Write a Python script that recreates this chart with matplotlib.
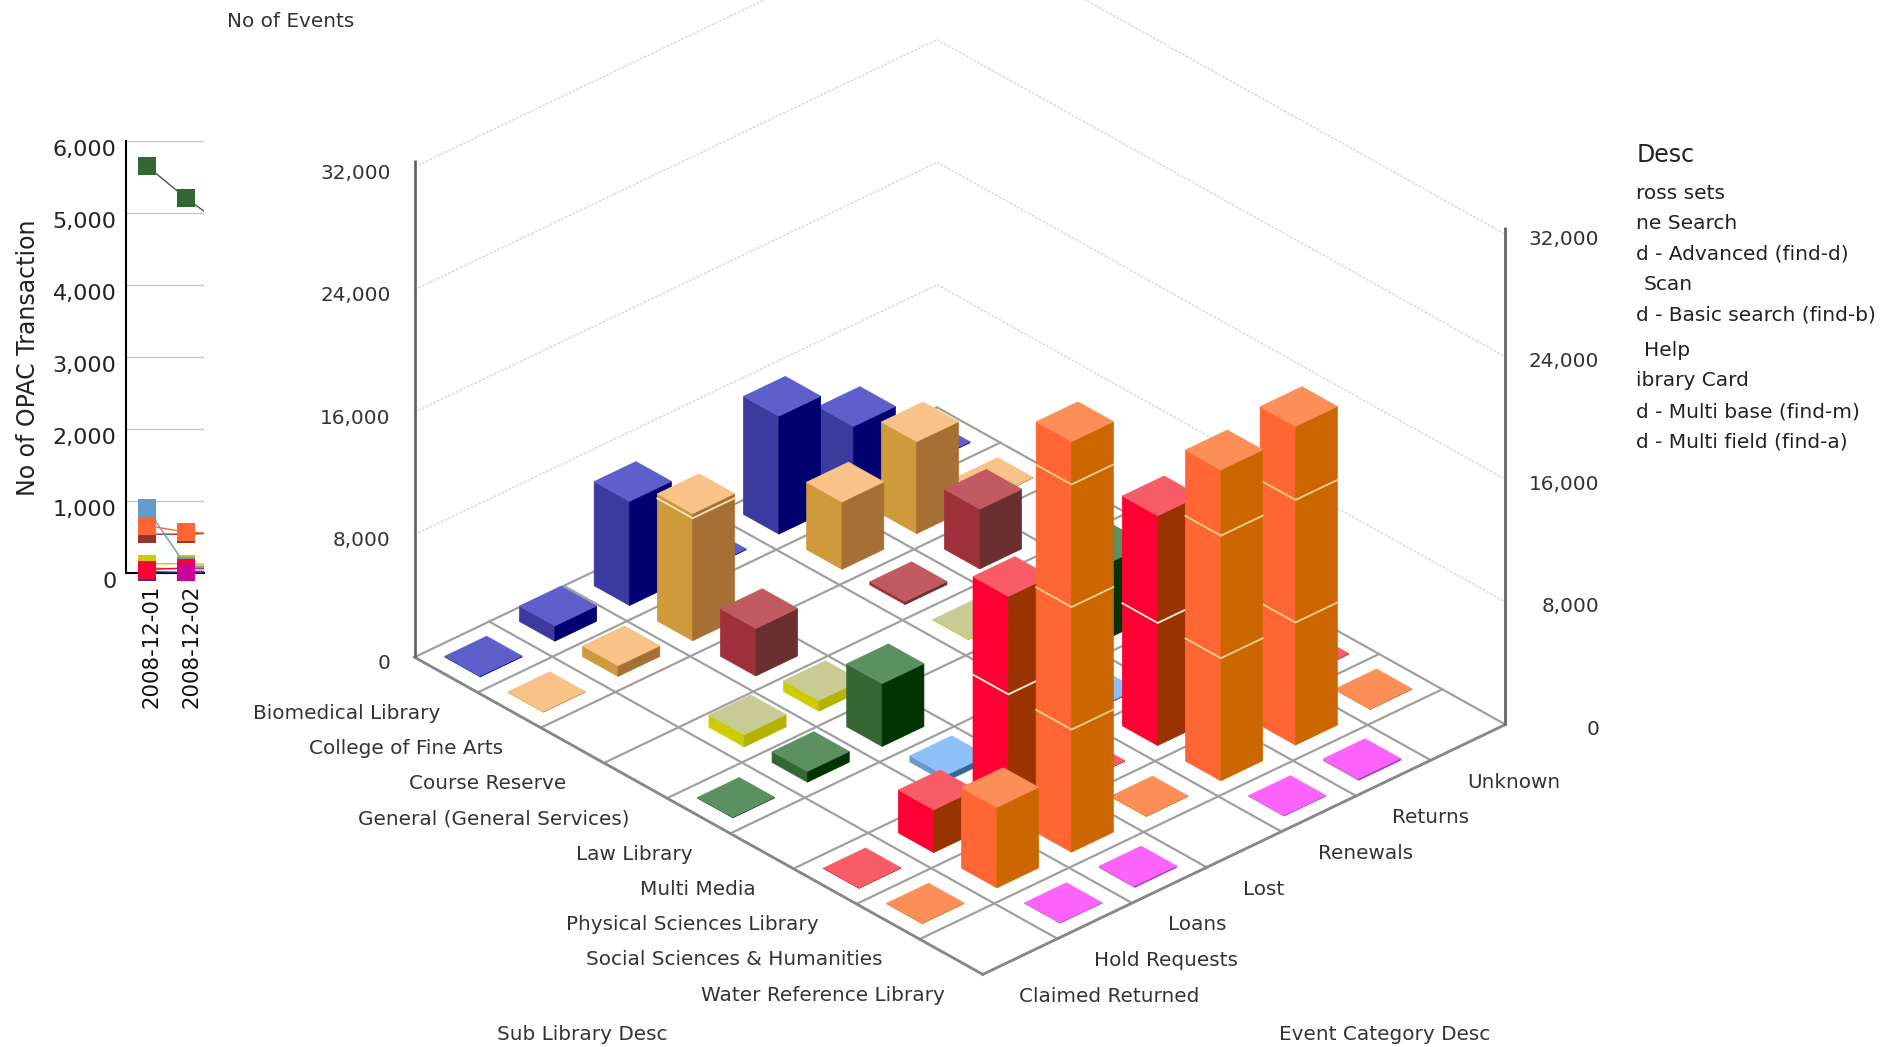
import numpy as np
import matplotlib
matplotlib.use('Agg')
import matplotlib.pyplot as plt
from matplotlib.patches import Polygon
from matplotlib.transforms import ScaledTranslation, Bbox, TransformedBbox

matplotlib.rcParams['font.family'] = 'DejaVu Sans'

# 3d chart data, one list per sub library, values in event category order
sub_libraries = ['Biomedical Library', 'College of Fine Arts', 'Course Reserve',
                 'General (General Services)', 'Law Library', 'Multi Media',
                 'Physical Sciences Library', 'Social Sciences & Humanities',
                 'Water Reference Library']
event_categories = ['Claimed Returned', 'Hold Requests', 'Loans', 'Lost',
                    'Renewals', 'Returns', 'Unknown']
biomedical = [60, 1000, 6800, 60, 7700, 4700, 60]
fine_arts = [40, 700, 8300, 0, 4400, 6000, 40]
course_reserve = [0, 0, 3100, 0, 200, 3900, 0]
general = [0, 800, 700, 0, 40, 0, 0]
law = [40, 700, 4100, 0, 0, 4900, 0]
multi_media = [0, 0, 400, 0, 100, 0, 0]
physical = [40, 2800, 14400, 40, 15000, 0, 40]
social = [40, 5250, 26800, 40, 20300, 20800, 40]
water = [0, 40, 100, 0, 40, 120, 0]
event_counts = [biomedical, fine_arts, course_reserve, general, law,
                multi_media, physical, social, water]

z_ticks = [0, 8000, 16000, 24000, 32000]

# top, left and right face colours per sub library
face_colors = [('#5f5fcb', '#3a3a9f', '#000070'),
               ('#f9c387', '#ce9a3c', '#a66f33'),
               ('#c05a60', '#9f2f3a', '#6a3030'),
               ('#c9cb94', '#cccc00', '#b3b300'),
               ('#5c9060', '#336633', '#003300'),
               ('#8dc0f7', '#6699cc', '#336699'),
               ('#f85c66', '#ff0033', '#993300'),
               ('#fb8f57', '#ff6633', '#cc6600'),
               ('#fb63fb', '#cc66cc', '#9933cc')]
band_colors = ['#fbe0b8', '#fbe0b8', '#ffffff', '#ffffff', '#ffffff', '#ffffff',
               '#fff0e0', '#fbd08c', '#ffffff']

# line chart data, clipped at the right side
dates = ['2008-12-01', '2008-12-02', '2008-12-03']
line_series = [
    ([20, 10, 15], '#333399'),
    ([70, 60, 60], '#cc9933'),
    ([540, 540, 560], '#993333'),
    ([130, 130, 120], '#cccc00'),
    ([5650, 5200, 4800], '#336633'),
    ([900, 100, 90], '#6699cc'),
    ([50, 70, 70], '#ff0033'),
    ([660, 570, 540], '#ff6633'),
    ([np.nan, 20, 30], '#cc0099'),
]

W = 1568.
S = 1884 / W
fig = plt.figure(figsize=(18.84, 10.47), dpi=100)
ax = fig.add_axes([0, 0, 1, 1])
ax.set_xlim(0, W)
ax.set_ylim(1047 / S, 0)
ax.axis('off')

# floor corner and unit vectors of the projection
origin = np.array([345., 547.])
u = np.array([52.55, 29.33])
v = np.array([62.14, -29.71])
z_px = 102. / 8000


def proj(i, j, z=0):
    p = origin + i * u + j * v
    return (p[0], p[1] - z * z_px)


ni, nj = len(sub_libraries), len(event_categories)

# walls
wall_color = '#d8d8d8'
for z in z_ticks[1:]:
    xs = [proj(0, 0, z)[0], proj(0, nj, z)[0], proj(ni, nj, z)[0]]
    ys = [proj(0, 0, z)[1], proj(0, nj, z)[1], proj(ni, nj, z)[1]]
    ax.plot(xs, ys, color=wall_color, lw=1, ls=(0, (2, 1)), zorder=1)

# floor grid
for i in range(ni + 1):
    a, b = proj(i, 0), proj(i, nj)
    ax.plot([a[0], b[0]], [a[1], b[1]], color='#a0a0a0', lw=1.6, zorder=2)
for j in range(nj + 1):
    a, b = proj(0, j), proj(ni, j)
    ax.plot([a[0], b[0]], [a[1], b[1]], color='#a0a0a0', lw=1.6, zorder=2)
for a, b in [(proj(0, 0), proj(ni, 0)), (proj(ni, 0), proj(ni, nj))]:
    ax.plot([a[0], b[0]], [a[1], b[1]], color='#888888', lw=2, zorder=2)

# the two upright axes
for corner in [proj(0, 0), proj(ni, nj)]:
    ax.plot([corner[0], corner[0]], [corner[1], corner[1] - 414],
            color='#666666', lw=2, zorder=2, solid_capstyle='butt')

# bars, back to front
w = 0.28
cells = [(i, j) for i in range(ni) for j in range(nj) if event_counts[i][j] > 0]
cells.sort(key=lambda c: c[0] - c[1])
zo = 3
for i, j in cells:
    h = event_counts[i][j]
    top, left, right = face_colors[i]
    i0, i1, j0, j1 = i + .5 - w, i + .5 + w, j + .5 - w, j + .5 + w
    ax.add_patch(Polygon([proj(i0, j0, 0), proj(i1, j0, 0), proj(i1, j0, h), proj(i0, j0, h)],
                         fc=left, ec=left, lw=.5, zorder=zo))
    ax.add_patch(Polygon([proj(i1, j0, 0), proj(i1, j1, 0), proj(i1, j1, h), proj(i1, j0, h)],
                         fc=right, ec=right, lw=.5, zorder=zo))
    ax.add_patch(Polygon([proj(i0, j0, h), proj(i1, j0, h), proj(i1, j1, h), proj(i0, j1, h)],
                         fc=top, ec=top, lw=.5, zorder=zo))
    for z in z_ticks[1:]:
        if z < h:
            a, b, c = proj(i0, j0, z), proj(i1, j0, z), proj(i1, j1, z)
            ax.plot([a[0], b[0], c[0]], [a[1], b[1], c[1]], color=band_colors[i],
                    lw=1.3, zorder=zo, solid_joinstyle='miter')
    zo += 1

# texts of the 3d chart
label_color = '#333333'
fs = 14.4
for z in z_ticks:
    a = proj(0, 0, z)
    ax.text(a[0] - 20, a[1] + 5, f'{z:,}', ha='right', va='center', fontsize=fs, color=label_color)
    b = proj(ni, nj, z)
    ax.text(b[0] + 78, b[1] + 4, f'{z:,}', ha='right', va='center', fontsize=fs, color=label_color)
for i, name in enumerate(sub_libraries):
    a = proj(i + .5, 0)
    ax.text(a[0] - 5, a[1] + 32, name, ha='right', va='center', fontsize=fs, color=label_color)
for j, name in enumerate(event_categories):
    a = proj(ni, j + .5)
    ax.text(a[0] - 1, a[1] + 33, name, ha='left', va='center', fontsize=fs, color=label_color)
ax.text(189, 18, 'No of Events', ha='left', va='center', fontsize=fs, color=label_color)
ax.text(485, 861, 'Sub Library Desc', ha='center', va='center', fontsize=fs, color=label_color)
ax.text(1152, 861, 'Event Category Desc', ha='center', va='center', fontsize=fs, color=label_color)

# clipped legend at the right
ax.text(1362, 129, 'Desc', ha='left', va='center', fontsize=17, color='#222222')
legend_rows = [('ross sets', 1362, 161), ('ne Search', 1362, 186),
               ('d - Advanced (find-d)', 1362, 211), ('Scan', 1368, 237),
               ('d - Basic search (find-b)', 1362, 262), ('Help', 1368, 292),
               ('ibrary Card', 1362, 317), ('d - Multi base (find-m)', 1362, 343),
               ('d - Multi field (find-a)', 1362, 368)]
for txt, x, y in legend_rows:
    ax.text(x, y, txt, ha='left', va='center', fontsize=14.5, color='#222222')

# clipped line chart at the left
ax2 = fig.add_axes([105 / W, 1 - 477 * S / 1047., 65 / W, 360 * S / 1047.])
ax2.patch.set_alpha(0)
x_pos = np.arange(len(dates))
clip = TransformedBbox(Bbox([[0, -0.1], [1, 1.02]]), ax2.transAxes)
for values, color in line_series:
    line, = ax2.plot(x_pos, values, color=color, lw=1, marker='s', ms=13, mew=0, zorder=3)
    line.set_clip_box(clip)
ax2.set_xlim(-0.515, 1.4545)
ax2.set_ylim(0, 6000)
ax2.set_yticks(range(0, 6001, 1000))
ax2.set_yticklabels([f'{t:,}' for t in range(0, 6001, 1000)], fontsize=16, color='#222222')
ax2.set_xticks(x_pos[:2])
ax2.set_xticklabels(dates[:2], rotation=90, fontsize=15.3, color='#111111')
ax2.tick_params(axis='both', length=0)
ax2.tick_params(axis='x', pad=8)
ax2.tick_params(axis='y', pad=7)
for t in ax2.get_yticklabels():
    t.set_transform(t.get_transform() + ScaledTranslation(0, -6 * S / 100., fig.dpi_scale_trans))
for t in ax2.get_xticklabels():
    t.set_transform(t.get_transform() + ScaledTranslation(4 * S / 100., 0, fig.dpi_scale_trans))
ax2.grid(axis='y', color='#c8c8c8', lw=1)
ax2.set_axisbelow(True)
for side in ['top', 'right']:
    ax2.spines[side].set_visible(False)
ax2.spines['left'].set_linewidth(1.5)
ax2.spines['bottom'].set_linewidth(1.5)
ax2.set_ylabel('No of OPAC Transaction', fontsize=17, color='#222222')
ax2.yaxis.set_label_coords(-72 / 65., 0.497)

fig.savefig('out.png', dpi=100)
